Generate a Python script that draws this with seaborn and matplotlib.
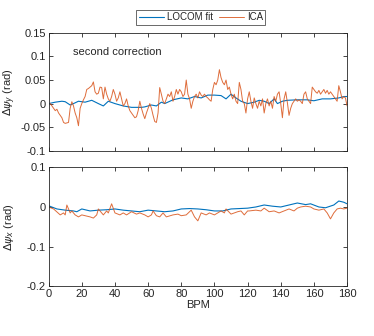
import numpy as np
import pandas as pd
import matplotlib
matplotlib.use("Agg")
import matplotlib.pyplot as plt
import seaborn as sns

# ---- data ----
bpm = np.arange(1, 181)

ica_y = [0.0, -0.005, -0.01, -0.015, -0.012, -0.02, -0.025, -0.03,
         -0.04, -0.042, -0.041, -0.04, -0.01, 0.004, -0.005, -0.02,
         -0.03, -0.047, -0.01, 0.0, 0.008, 0.015, 0.03, 0.032,
         0.035, 0.038, 0.046, 0.025, 0.02, 0.022, 0.035, 0.034,
         0.01, 0.035, 0.02, 0.01, 0.005, 0.015, 0.03, 0.02,
         0.005, 0.012, 0.025, 0.01, -0.005, 0.0, 0.01, -0.005,
         -0.015, -0.02, -0.025, -0.03, -0.028, -0.015, 0.005, -0.01,
         -0.022, -0.032, -0.02, -0.01, 0.0, -0.01, -0.025, -0.038,
         -0.04, -0.02, 0.034, 0.02, 0.005, 0.0, 0.01, 0.02,
         0.015, 0.025, 0.005, 0.015, 0.03, 0.02, 0.03, 0.025,
         0.015, 0.02, 0.05, 0.02, 0.01, -0.01, 0.005, 0.015,
         0.02, 0.012, 0.025, 0.018, 0.015, 0.02, 0.015, 0.012,
         0.008, 0.005, 0.03, 0.045, 0.04, 0.05, 0.072, 0.055,
         0.045, 0.04, 0.05, 0.03, 0.035, 0.02, 0.01, 0.02,
         0.005, 0.0, 0.045, 0.03, 0.005, 0.0, -0.02, 0.01,
         0.025, 0.005, -0.01, 0.012, 0.0, -0.01, 0.005, -0.005,
         0.01, -0.02, 0.0, 0.01, -0.005, 0.005, -0.01, 0.015,
         0.005, 0.02, 0.025, 0.0, -0.03, 0.01, 0.025, 0.002,
         -0.025, -0.01, 0.0, 0.005, 0.01, 0.005, 0.008, 0.005,
         0.0, 0.02, 0.025, 0.01, 0.005, 0.0, 0.035, 0.03,
         0.025, 0.022, 0.028, 0.02, 0.025, 0.03, 0.022, 0.028,
         0.02, 0.025, 0.02, 0.015, 0.01, 0.005, 0.038, 0.025,
         0.01, 0.015, 0.012, -0.005]

locom_y_bpm = [0, 4, 8, 10, 13, 15, 18, 20, 22, 26, 30, 33, 36, 40, 45, 50,
               56, 58, 62, 65, 68, 70, 75, 80, 84, 88, 92, 96, 100, 104,
               107, 110, 113, 116, 120, 124, 127, 130, 133, 136, 138, 141,
               144, 150, 156, 160, 165, 170, 175, 178, 180]
locom_y = [0.0, 0.003, 0.005, 0.004, -0.003, 0.0, 0.005, 0.004, 0.003,
           0.007, 0.0, -0.005, 0.005, 0.0, -0.005, -0.008, -0.008, -0.007,
           -0.003, -0.005, 0.003, 0.0, 0.008, 0.012, 0.01, 0.015, 0.012,
           0.018, 0.018, 0.017, 0.01, 0.02, 0.012, 0.005, 0.0, 0.003,
           0.007, 0.005, 0.0, 0.01, 0.0, 0.005, 0.007, 0.008, 0.008,
           0.006, 0.01, 0.01, 0.012, 0.015, 0.015]

ica_x_bpm = [0, 3, 7, 9, 10, 11, 13, 14, 16, 18, 20, 22, 25, 27, 29, 30, 31,
             33, 35, 36, 38, 40, 43, 45, 47, 50, 53, 55, 58, 60, 62, 63, 65,
             67, 69, 71, 75, 78, 80, 83, 86, 88, 90, 92, 95, 97, 100, 104,
             106, 107, 110, 114, 116, 118, 119, 120, 121, 125, 128, 130, 133,
             136, 139, 142, 145, 148, 150, 152, 155, 158, 160, 163, 166, 168,
             170, 172, 174, 176, 178, 180]
ica_x = [0.0, -0.005, -0.02, -0.015, -0.02, 0.005, -0.015, -0.01, -0.02,
         -0.025, -0.02, -0.022, -0.025, -0.028, -0.02, -0.005, -0.01, -0.02,
         -0.01, -0.015, 0.008, -0.015, -0.02, -0.015, -0.02, -0.012, -0.018,
         -0.015, -0.02, -0.025, -0.02, -0.01, -0.022, -0.025, -0.015,
         -0.025, -0.02, -0.018, -0.022, -0.02, -0.008, -0.025, -0.035,
         -0.015, -0.02, -0.015, -0.02, -0.01, -0.015, -0.005, -0.018,
         -0.012, -0.01, -0.02, np.nan, -0.01, -0.01, -0.008, -0.01, -0.003,
         -0.012, -0.01, -0.015, -0.01, -0.005, -0.01, -0.003, 0.0, 0.002,
         0.0, -0.005, -0.008, -0.005, -0.015, -0.03, -0.015, -0.005,
         -0.003, -0.005, -0.003]

locom_x_bpm = [0, 5, 10, 15, 17, 20, 25, 30, 35, 40, 45, 50, 55, 60, 65, 70,
               75, 80, 85, 90, 95, 100, 105, 110, 115, 120, 125, 130, 135,
               140, 145, 150, 155, 158, 163, 167, 172, 175, 178, 180]
locom_x = [0.003, -0.005, -0.008, -0.01, -0.012, -0.005, -0.01, -0.008,
           -0.007, -0.005, -0.008, -0.01, -0.012, -0.008, -0.01, -0.012,
           -0.01, -0.005, -0.004, -0.005, -0.007, -0.01, -0.01, -0.005,
           -0.004, -0.003, 0.0, 0.005, 0.002, 0.0, 0.005, 0.01, 0.006,
           0.008, 0.0, -0.002, 0.005, 0.015, 0.012, 0.008]

blue = "#0072BD"
orange = "#D95319"

sns.set_theme(style="ticks")
plt.rcParams.update({
    "font.family": ["Liberation Sans", "DejaVu Sans"],
    "font.size": 8,
    "axes.unicode_minus": False,
    "axes.edgecolor": "#262626",
    "axes.linewidth": 0.6,
    "xtick.color": "#262626",
    "ytick.color": "#262626",
    "xtick.direction": "in",
    "ytick.direction": "in",
    "xtick.major.size": 3,
    "ytick.major.size": 3,
    "xtick.major.width": 0.6,
    "ytick.major.width": 0.6,
    "xtick.top": True,
    "ytick.right": True,
})

fig = plt.figure(figsize=(3.74, 3.36), dpi=100)
ax1 = fig.add_axes([0.130, 0.5515, 0.798, 0.3505])
ax2 = fig.add_axes([0.130, 0.148, 0.798, 0.354])

df_top_l = pd.DataFrame({"BPM": locom_y_bpm, "val": locom_y})
df_top_i = pd.DataFrame({"BPM": bpm, "val": ica_y})
df_bot_l = pd.DataFrame({"BPM": locom_x_bpm, "val": locom_x})
df_bot_i = pd.DataFrame({"BPM": ica_x_bpm, "val": ica_x})

sns.lineplot(data=df_top_l, x="BPM", y="val", ax=ax1, color=blue,
             linewidth=0.8, label="LOCOM fit")
sns.lineplot(data=df_top_i, x="BPM", y="val", ax=ax1, color=orange,
             linewidth=0.7, alpha=0.85, label="ICA")
sns.lineplot(data=df_bot_l, x="BPM", y="val", ax=ax2, color=blue,
             linewidth=0.8, legend=False)
sns.lineplot(data=df_bot_i, x="BPM", y="val", ax=ax2, color=orange,
             linewidth=0.7, alpha=0.85, legend=False)

xt = np.arange(0, 181, 20)
for ax in (ax1, ax2):
    ax.set_xlim(0, 180)
    ax.set_xticks(xt)
    ax.tick_params(labelsize=8, pad=2)
    for s in ax.spines.values():
        s.set_visible(True)

ax1.set_ylim(-0.1, 0.15)
ax1.set_yticks([-0.1, -0.05, 0, 0.05, 0.1, 0.15])
ax1.set_yticklabels(["-0.1", "-0.05", "0", "0.05", "0.1", "0.15"])
ax1.set_xticklabels([])
ax1.set_xlabel("")
ax1.set_ylabel(r"$\Delta\psi_y$ (rad)", fontsize=8, labelpad=2)
ax1.text(14.5, 0.11, "second correction", fontsize=8, va="center", ha="left")

ax2.set_ylim(-0.2, 0.1)
ax2.set_yticks([-0.2, -0.1, 0, 0.1])
ax2.set_yticklabels(["-0.2", "-0.1", "0", "0.1"])
ax2.set_xticklabels([str(v) for v in xt])
ax2.set_xlabel("BPM", fontsize=8, labelpad=1)
ax2.set_ylabel(r"$\Delta\psi_x$ (rad)", fontsize=8, labelpad=8)

leg = ax1.legend(loc="lower center", bbox_to_anchor=(0.51, 1.03), ncol=2,
                 frameon=True, fancybox=False, fontsize=7, handlelength=2.6,
                 borderpad=0.25, columnspacing=0.6, handletextpad=0.3)
leg.get_frame().set_edgecolor("#262626")
leg.get_frame().set_linewidth(0.6)

fig.savefig("out.png", dpi=100)
